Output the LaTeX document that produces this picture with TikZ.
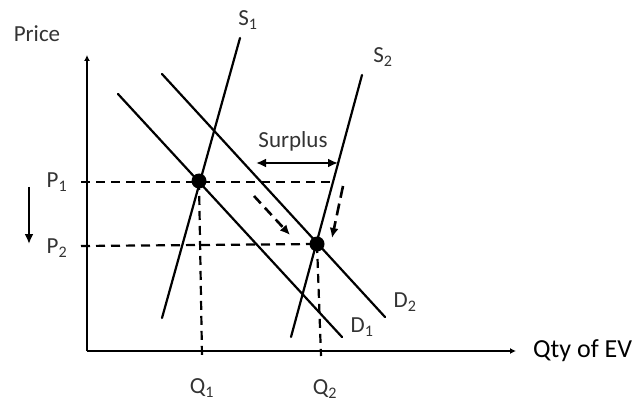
\documentclass[tikz,border=0pt]{standalone}
\usepackage{fontspec}
\setmainfont{Carlito}
\usetikzlibrary{arrows.meta}
\definecolor{lbl}{HTML}{333333}
\tikzset{
  curve/.style={line width=2.2pt, line cap=round},
  axis/.style={line width=2.2pt},
  guide/.style={line width=2.2pt, dash pattern=on 9pt off 6pt},
  lab/.style={font=\fontsize{23}{25}\selectfont, text=lbl, inner sep=1pt},
  dot/.style={circle, fill=black, minimum size=15pt, inner sep=0pt},
  tip/.style={-{Latex[length=10pt,width=9pt]}}
}
\begin{document}
\begin{tikzpicture}[x=1pt,y=-1pt]
\useasboundingbox (0,0) rectangle (644,403);
% axes
\coordinate (O) at (87,351);
\coordinate (Ytop) at (87,55);
\coordinate (Xend) at (516,351);
\draw[axis, -{Latex[length=6pt,width=6pt]}] (O) -- (Ytop);
\draw[axis, -{Latex[length=6pt,width=6pt]}] (O) -- (Xend);
% curve end points
\coordinate (S1a) at (240,38);  \coordinate (S1b) at (162,318);
\coordinate (S2a) at (362,75);  \coordinate (S2b) at (291,337);
\coordinate (D1a) at (118,94);  \coordinate (D1b) at (342,337);
\coordinate (D2a) at (162,74);  \coordinate (D2b) at (385,317);
\draw[curve] (S1a) -- (S1b);
\draw[curve] (S2a) -- (S2b);
\draw[curve] (D1a) -- (D1b);
\draw[curve] (D2a) -- (D2b);
% equilibria
\node[dot] (E1) at (199,181) {};
\node[dot] (E2) at (317,244) {};
% guides
\coordinate (P1t) at (81,182);
\coordinate (P1e) at (333,182);
\coordinate (P2t) at (81,246);
\coordinate (Q1t) at (202,356);
\coordinate (Q2t) at (321,356);
\draw[guide] (P1t) -- (P1e);
\draw[guide] (P2t) -- (E2.center);
\draw[guide] (E1.center) -- (Q1t);
\draw[guide] (E2.center) -- (Q2t);
% surplus
\coordinate (Sl) at (256,163);
\coordinate (Sr) at (338,163);
\draw[line width=2.6pt, {Latex[length=10pt,width=9pt]}-{Latex[length=10pt,width=9pt]}] (Sl) -- (Sr);
\node[lab] (surplus) at (293,141) {Surplus};
% movement arrows
\coordinate (M1a) at (254,196); \coordinate (M1b) at (290,235);
\coordinate (M2a) at (343,186); \coordinate (M2b) at (332,238);
\draw[tip, line width=2.6pt, dash pattern=on 10pt off 6pt] (M1a) -- (M1b);
\draw[tip, line width=2.6pt, dash pattern=on 12pt off 6pt] (M2a) -- (M2b);
% price fall arrow
\coordinate (Fa) at (29,187); \coordinate (Fb) at (29,244);
\draw[tip, line width=2.6pt] (Fa) -- (Fb);
% labels
\node[lab] (price) at (37,34) {Price};
\node[lab] (p1) at (57,182) {P\textsubscript{1}};
\node[lab] (p2) at (57,248) {P\textsubscript{2}};
\node[lab] (q1) at (202,388) {Q\textsubscript{1}};
\node[lab] (q2) at (325,389) {Q\textsubscript{2}};
\node[lab] (s1) at (248,20) {S\textsubscript{1}};
\node[lab] (s2) at (383,57) {S\textsubscript{2}};
\node[lab] (d1) at (362,327) {D\textsubscript{1}};
\node[lab] (d2) at (405,302) {D\textsubscript{2}};
\node[font=\fontsize{26}{28}\selectfont, anchor=west, inner sep=0pt] (qty) at (533,351) {Qty of EV};
\end{tikzpicture}
\end{document}
